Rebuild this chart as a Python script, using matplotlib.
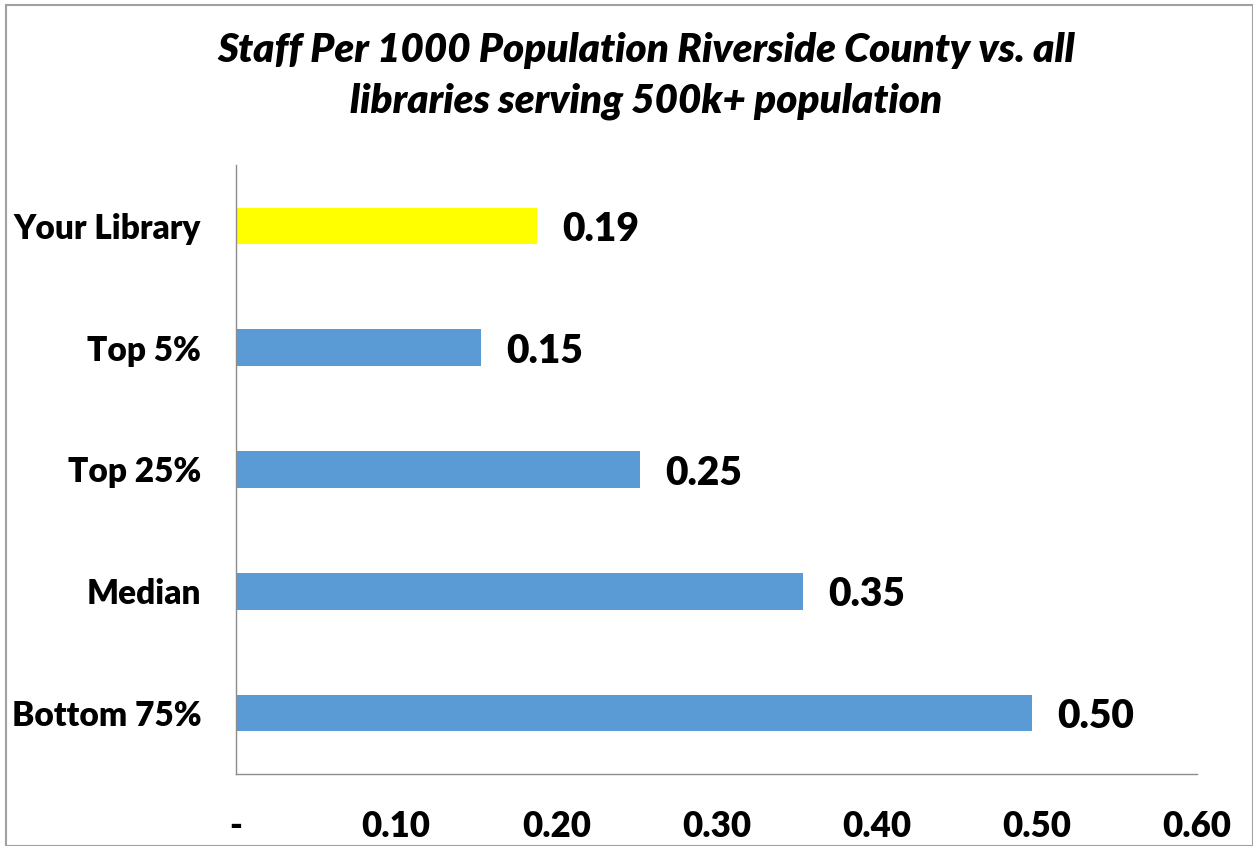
import matplotlib
matplotlib.use("Agg")
import matplotlib.pyplot as plt
from matplotlib.patches import Rectangle

categories = ["Bottom 75%", "Median", "Top 25%", "Top 5%", "Your Library"]
values = [0.497, 0.354, 0.252, 0.153, 0.188]
value_labels = ["0.50", "0.35", "0.25", "0.15", "0.19"]
xticks = [0.0, 0.1, 0.2, 0.3, 0.4, 0.5, 0.6]
xtick_labels = ["-", "0.10", "0.20", "0.30", "0.40", "0.50", "0.60"]
colors = ["#5B9BD5", "#5B9BD5", "#5B9BD5", "#5B9BD5", "#FFFF00"]

plt.rcParams['font.family'] = ['Lato', 'DejaVu Sans']
W = 'heavy'

fig = plt.figure(figsize=(12.53, 8.46), dpi=100)
ax = fig.add_axes([236/1253, 72/846, (1197-236)/1253, (774-165)/846])

y = list(range(len(categories)))
ax.barh(y, values, height=0.30, color=colors)
for yi, v, lab in zip(y, values, value_labels):
    ax.text(v + 0.016, yi - 0.03, lab, va='center', ha='left',
            fontsize=28, fontweight=W)

ax.set_xlim(0, 0.6)
ax.set_ylim(-0.5, 4.5)
ax.set_yticks(y)
ax.set_yticklabels(categories, fontsize=24, fontweight=W)
ax.set_xticks(xticks)
ax.set_xticklabels(xtick_labels, fontsize=25, fontweight=W)
ax.tick_params(axis='both', length=0)
ax.tick_params(axis='y', pad=25)
ax.tick_params(axis='x', pad=26)
for s in ['top', 'right']:
    ax.spines[s].set_visible(False)
for s in ['left', 'bottom']:
    ax.spines[s].set_color('#8C8C8C')
    ax.spines[s].set_linewidth(1.0)

fig.text(646/1253, 1 - 76/846,
         "Staff Per 1000 Population Riverside County vs. all\nlibraries serving 500k+ population",
         ha='center', va='center', fontsize=29, fontweight=W, style='italic',
         linespacing=1.42)

fig.patches.append(Rectangle((6/1253, 0), 1 - 6/1253, 1 - 5/846,
                             transform=fig.transFigure, fill=False,
                             edgecolor='#A0A0A0', linewidth=1.5))

fig.savefig("out.png", dpi=100)
